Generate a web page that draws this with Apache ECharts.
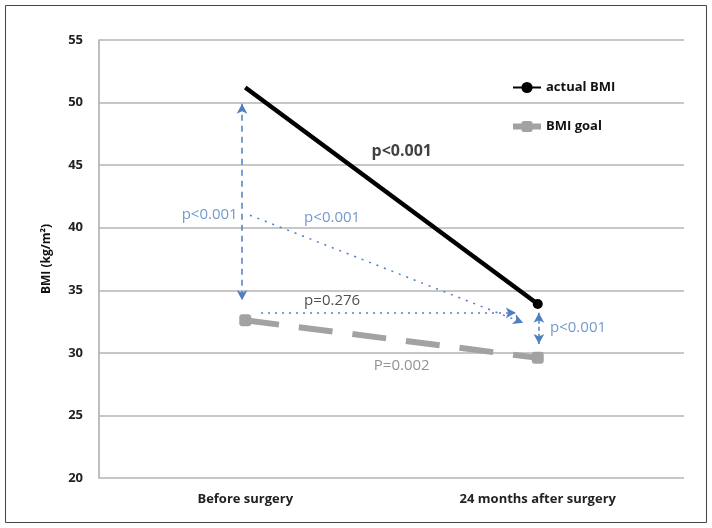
<!DOCTYPE html>
<html>
<head>
<meta charset="utf-8">
<script src="https://cdn.jsdelivr.net/npm/echarts@6/dist/echarts.min.js"></script>
<style>
  html, body { margin: 0; padding: 0; background: #fff; }
  #main { width: 712px; height: 528px; }
</style>
</head>
<body>
<div id="main"></div>
<script>
// data
var categories = ['Before surgery', '24 months after surgery'];
var actualBMI = [51.2, 33.9];
var goalBMI = [32.6, 29.6];
var yTicks = [20, 25, 30, 35, 40, 45, 50, 55];

// annotation lines: [x1, y1, x2, y2] (x in category units, 0 = first category)
var arrowLeft = [-0.011, 49.9, -0.011, 34.2];
var arrowRight = [1.004, 33.2, 1.004, 30.7];
var dottedDiag = [0.016, 41.0, 0.95, 32.4];
var dottedFlat = [0.054, 33.2, 0.925, 33.2];

// text labels: [x, y, text]
var pBlack = [0.535, 46.1, 'p<0.001'];
var pLeft = [-0.026, 41.0, 'p<0.001'];
var pMid = [0.297, 40.8, 'p<0.001'];
var pFlat = [0.297, 34.2, 'p=0.276'];
var pGoal = [0.535, 29.0, 'P=0.002'];
var pRight = [1.042, 32.0, 'p<0.001'];

var blue = '#4f7fc0';
var font = '"Open Sans", sans-serif';

function seg(a, type, arrows) {
    return [
        { coord: [a[0], a[1]], symbol: arrows[0] },
        { coord: [a[2], a[3]], symbol: arrows[1],
          lineStyle: { type: type } }
    ];
}

function lbl(p, color, weight, align) {
    return {
        value: [p[0], p[1]],
        label: {
            show: true, formatter: p[2], position: 'inside',
            color: color, fontWeight: weight, fontSize: weight === 'bold' ? 16 : 15,
            fontFamily: font, align: align || 'center', verticalAlign: 'middle'
        }
    };
}

var myChart = echarts.init(document.getElementById('main'));
var option = {
    backgroundColor: '#fff',
    animation: false,
    graphic: [{
        type: 'rect',
        shape: { x: 5.5, y: 5.5, width: 701, height: 517 },
        style: { fill: 'none', stroke: '#444', lineWidth: 1 }
    }],
    legend: {
        orient: 'vertical',
        left: 505,
        top: 76,
        itemWidth: 28,
        itemHeight: 14,
        itemGap: 26,
        data: [{
            name: 'actual BMI',
            lineStyle: { width: 2 }
        }, {
            name: 'BMI goal',
            lineStyle: { width: 6, type: 'solid' }
        }],
        textStyle: { fontFamily: font, fontWeight: 'bold', fontSize: 13, color: '#111' }
    },
    grid: { left: 99, right: 28, top: 40, bottom: 50 },
    xAxis: [{
        type: 'category',
        data: categories,
        boundaryGap: true,
        axisLine: { show: false },
        axisTick: { show: false },
        axisLabel: { fontFamily: font, fontWeight: 'bold', fontSize: 13, color: '#222', margin: 15 }
    }, {
        type: 'value',
        min: -0.5,
        max: 1.5,
        show: false
    }],
    yAxis: {
        type: 'value',
        min: yTicks[0],
        max: yTicks[yTicks.length - 1],
        interval: 5,
        name: 'BMI (kg/m²)',
        nameLocation: 'middle',
        nameGap: 46,
        nameTextStyle: { fontFamily: font, fontWeight: 'bold', fontSize: 12, color: '#111' },
        axisLine: { show: true, onZero: false, lineStyle: { color: '#aaa', width: 1.5 } },
        axisTick: { show: false },
        axisLabel: { fontFamily: font, fontWeight: 'bold', fontSize: 13, color: '#222', margin: 16 },
        splitLine: { lineStyle: { color: '#b4b4b4', width: 1.5 } }
    },
    series: [{
        name: 'BMI goal',
        type: 'line',
        data: goalBMI,
        symbol: 'roundRect',
        symbolSize: 12,
        itemStyle: { color: '#a2a2a2' },
        lineStyle: { color: '#a2a2a2', width: 6, type: [34, 20] },
        z: 3
    }, {
        name: 'actual BMI',
        type: 'line',
        data: actualBMI.map(function (v, i) {
            return i === 0 ? { value: v, symbolSize: 0 } : v;
        }),
        symbol: 'circle',
        symbolSize: 10,
        itemStyle: { color: '#000' },
        lineStyle: { color: '#000', width: 4.5 },
        z: 4
    }, {
        name: 'notes',
        type: 'scatter',
        xAxisIndex: 1,
        symbolSize: 0,
        data: [
            lbl(pBlack, '#111', 'bold'),
            lbl(pLeft, blue, 'normal', 'right'),
            lbl(pMid, blue, 'normal'),
            lbl(pFlat, '#222', 'normal'),
            lbl(pGoal, '#777', 'normal'),
            lbl(pRight, blue, 'normal', 'left')
        ],
        markLine: {
            silent: true,
            symbolSize: [8, 10],
            label: { show: false },
            lineStyle: { color: blue, width: 1.5 },
            data: [
                seg(arrowLeft, [6, 5], ['arrow', 'arrow']),
                seg(arrowRight, [4, 3], ['arrow', 'arrow']),
                seg(dottedDiag, [2, 6], ['none', 'arrow']),
                seg(dottedFlat, [2, 5], ['none', 'arrow'])
            ]
        },
        z: 5
    }]
};
myChart.setOption(option);
</script>
</body>
</html>
